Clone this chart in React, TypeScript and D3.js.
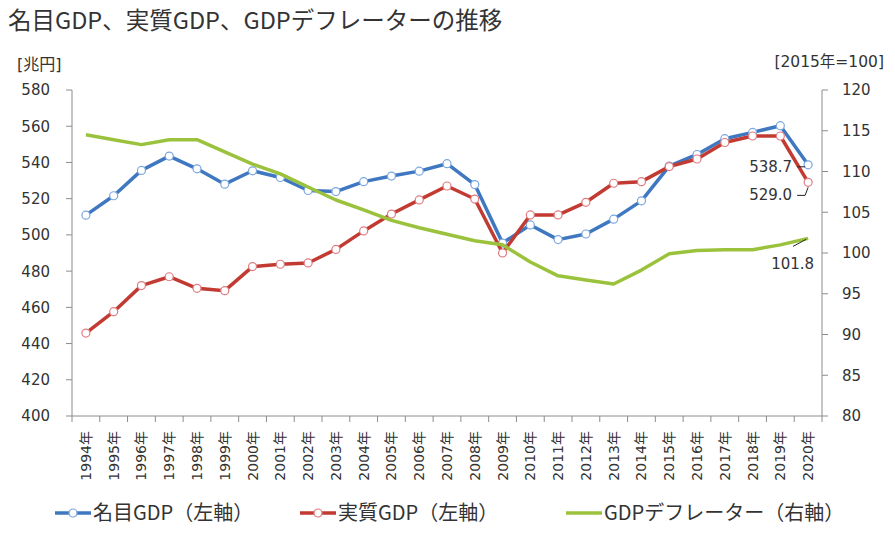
import React from "react";
import * as d3 from "d3";

const years = d3.range(1994, 2021).map((y) => `${y}年`);

// 名目GDP [兆円]
const nominalGdp = [
  510.9, 521.6, 535.6, 543.5, 536.5, 528.0, 535.4, 531.7, 524.5, 523.9, 529.4, 532.5, 535.2, 539.3,
  527.8, 495.5, 505.5, 497.4, 500.5, 508.7, 518.8, 538.0, 544.4, 553.1, 556.6, 560.3, 538.7,
];

// 実質GDP [兆円]
const realGdp = [
  445.8, 457.6, 472.0, 476.9, 470.5, 469.2, 482.5, 483.8, 484.5, 492.0, 502.2, 511.5, 519.3, 527.0,
  519.8, 490.0, 511.0, 511.0, 518.0, 528.5, 529.4, 537.7, 541.9, 551.0, 554.6, 554.6, 529.0,
];

// GDPデフレーター [2015年=100]
const deflator = [
  114.5, 113.9, 113.3, 113.9, 113.9, 112.4, 110.9, 109.7, 108.1, 106.5, 105.3, 104.0, 103.1, 102.3,
  101.5, 101.0, 98.9, 97.2, 96.7, 96.2, 97.9, 99.9, 100.3, 100.4, 100.4, 101.0, 101.8,
];

const leftTicks = d3.range(400, 581, 20);
const rightTicks = d3.range(80, 121, 5);

const BLUE = "#3f78c1";
const RED = "#c23b32";
const GREEN = "#9bc23c";
const AXIS = "#8c8c8c";
const TEXT = "#333";
const NUM_FONT = "'DejaVu Sans', 'Noto Sans CJK JP', sans-serif";
const JP_FONT = "'Noto Sans CJK JP', sans-serif";

export default function App() {
  const width = 895;
  const height = 533;
  const left = 72;
  const right = 822;
  const top = 90;
  const bottom = 416;

  const x = d3.scaleBand<string>().domain(years).range([left, right]);
  const bw = x.bandwidth();
  const cx = (i: number) => (x(years[i]) as number) + bw / 2;
  const yL = d3.scaleLinear().domain([400, 580]).range([bottom, top]);
  const yR = d3.scaleLinear().domain([80, 120]).range([bottom, top]);

  const lineL = d3
    .line<number>()
    .x((d, i) => cx(i))
    .y((d) => yL(d));
  const lineR = d3
    .line<number>()
    .x((d, i) => cx(i))
    .y((d) => yR(d));

  const last = years.length - 1;
  const px = cx(last);
  const pN = yL(nominalGdp[last]);
  const pR = yL(realGdp[last]);
  const pD = yR(deflator[last]);

  const series = [
    { name: "名目GDP（左軸）", values: nominalGdp, color: BLUE, marker: "#7aa7e0" },
    { name: "実質GDP（左軸）", values: realGdp, color: RED, marker: "#e07c80" },
  ];

  const legend = [
    { name: "名目GDP（左軸）", color: BLUE, marker: "#7aa7e0", x: 55 },
    { name: "実質GDP（左軸）", color: RED, marker: "#e07c80", x: 300 },
    { name: "GDPデフレーター（右軸）", color: GREEN, marker: null, x: 566 },
  ];

  return (
    <svg
      width={width}
      height={height}
      style={{ position: "absolute", left: 0, top: 0, background: "#fff" }}
    >
      <text x={8} y={29} fontFamily={JP_FONT} fontSize={23.5} fill={TEXT}>
        名目GDP、実質GDP、GDPデフレーターの推移
      </text>
      <text x={17} y={70} fontFamily={NUM_FONT} fontSize={16} fill={TEXT}>
        [兆円]
      </text>
      <text x={884} y={67} fontFamily={NUM_FONT} fontSize={15.5} fill={TEXT} textAnchor="end">
        [2015年=100]
      </text>

      {/* axes */}
      <line x1={left} x2={left} y1={top} y2={bottom} stroke={AXIS} />
      <line x1={right} x2={right} y1={top} y2={bottom} stroke={AXIS} />
      <line x1={left} x2={right} y1={bottom} y2={bottom} stroke={AXIS} />
      {leftTicks.map((t) => (
        <g key={"l" + t}>
          <line x1={left - 6} x2={left} y1={yL(t)} y2={yL(t)} stroke={AXIS} />
          <text
            x={50}
            y={yL(t)}
            dy="0.36em"
            textAnchor="end"
            fontFamily={NUM_FONT}
            fontSize={15}
            fill={TEXT}
          >
            {t}
          </text>
        </g>
      ))}
      {rightTicks.map((t) => (
        <g key={"r" + t}>
          <line x1={right} x2={right + 6} y1={yR(t)} y2={yR(t)} stroke={AXIS} />
          <text x={842} y={yR(t)} dy="0.36em" fontFamily={NUM_FONT} fontSize={15} fill={TEXT}>
            {t}
          </text>
        </g>
      ))}
      {years.map((yr) => (
        <line
          key={"xt" + yr}
          x1={x(yr) as number}
          x2={x(yr) as number}
          y1={bottom}
          y2={bottom + 6}
          stroke={AXIS}
        />
      ))}
      <line x1={right} x2={right} y1={bottom} y2={bottom + 6} stroke={AXIS} />
      {years.map((yr, i) => (
        <text
          key={"xl" + yr}
          transform={`translate(${cx(i) + 5},431) rotate(-90)`}
          textAnchor="end"
          fontFamily={NUM_FONT}
          fontSize={14}
          fill={TEXT}
        >
          {yr}
        </text>
      ))}

      {/* series */}
      {series.map((s) => (
        <g key={s.name}>
          <path
            d={lineL(s.values) as string}
            fill="none"
            stroke={s.color}
            strokeWidth={3.5}
            strokeLinejoin="round"
          />
          {s.values.map((v, i) => (
            <circle
              key={i}
              cx={cx(i)}
              cy={yL(v)}
              r={4}
              fill="#fff"
              stroke={s.marker}
              strokeWidth={1.2}
            />
          ))}
        </g>
      ))}
      <path
        d={lineR(deflator) as string}
        fill="none"
        stroke={GREEN}
        strokeWidth={3.5}
        strokeLinejoin="round"
      />

      {/* data labels */}
      <g fontFamily={NUM_FONT} fontSize={15} fill={TEXT}>
        <text x={px - 16} y={pN + 7} textAnchor="end">
          {nominalGdp[last].toFixed(1)}
        </text>
        <text x={px - 16} y={pR + 18} textAnchor="end">
          {realGdp[last].toFixed(1)}
        </text>
        <text x={px + 6} y={pD + 31} textAnchor="end">
          {deflator[last].toFixed(1)}
        </text>
      </g>
      <g stroke="#222" strokeWidth={1} fill="none">
        <path d={`M${px - 11},${pN + 2}H${px - 3}`} />
        <path d={`M${px - 11},${pR + 13}H${px - 3}L${px},${pR + 5}`} />
        <path d={`M${px - 15},${pD + 8}L${px - 2},${pD + 1}`} />
      </g>

      {/* legend */}
      {legend.map((l) => (
        <g key={l.name} transform={`translate(${l.x},513)`}>
          <line x1={0} x2={36} y1={0} y2={0} stroke={l.color} strokeWidth={3.5} />
          {l.marker && (
            <circle cx={18} cy={0} r={4} fill="#fff" stroke={l.marker} strokeWidth={1.2} />
          )}
          <text x={38} y={0} dy="0.36em" fontFamily={JP_FONT} fontSize={20} fill={TEXT}>
            {l.name}
          </text>
        </g>
      ))}
    </svg>
  );
}
